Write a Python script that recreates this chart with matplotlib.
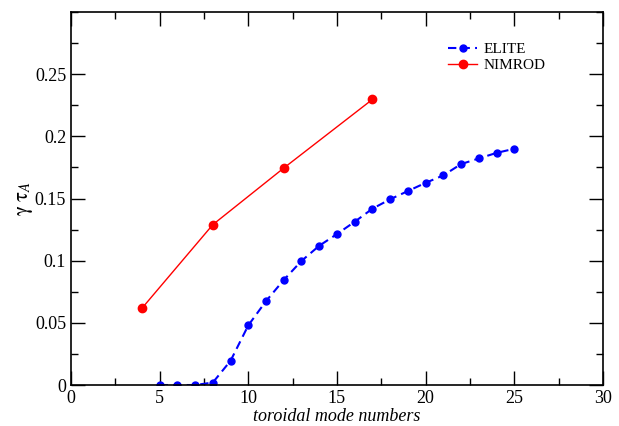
import matplotlib
matplotlib.use("Agg")
import matplotlib.pyplot as plt
from matplotlib.ticker import MultipleLocator

# ELITE growth rates vs toroidal mode number
elite_n = [5, 6, 7, 8, 9, 10, 11, 12, 13, 14, 15, 16, 17, 18, 19, 20, 21, 22, 23, 24, 25]
elite_gamma = [0.0, 0.0, 0.0, 0.002, 0.0195, 0.048, 0.0675, 0.0845, 0.0998, 0.112, 0.1214,
               0.1313, 0.1418, 0.1494, 0.156, 0.1626, 0.1686, 0.1777, 0.1822, 0.1867, 0.19]

# NIMROD growth rates
nimrod_n = [4, 8, 12, 17]
nimrod_gamma = [0.0617, 0.129, 0.1745, 0.2297]

plt.rcParams["font.family"] = ["Liberation Serif", "DejaVu Serif"]
plt.rcParams["mathtext.fontset"] = "stix"

fig = plt.figure(figsize=(6.19, 4.26), dpi=100)
ax = fig.add_axes([0.1147, 0.0962, 0.8593, 0.8756])

ax.plot(elite_n, elite_gamma, color="blue", linestyle=(0, (4, 2.5)), linewidth=1.5,
        marker="o", markersize=5, label="ELITE")
ax.plot(nimrod_n, nimrod_gamma, color="red", linestyle="-", linewidth=1,
        marker="o", markersize=6, label="NIMROD")

ax.set_xlim(0, 30)
ax.set_ylim(0, 0.3)
ax.xaxis.set_major_locator(MultipleLocator(5))
ax.xaxis.set_minor_locator(MultipleLocator(2.5))
ax.yaxis.set_minor_locator(MultipleLocator(0.025))
ax.set_yticks([0, 0.05, 0.1, 0.15, 0.2, 0.25])
ax.set_yticklabels(["0", "0.05", "0.1", "0.15", "0.2", "0.25"])
ax.tick_params(which="both", direction="in", top=True, right=True, labelsize=13, width=1)
ax.tick_params(which="major", length=10)
ax.tick_params(which="minor", length=5)
for s in ax.spines.values():
    s.set_linewidth(1.2)

ax.set_xlabel("toroidal mode numbers", fontsize=13, style="italic", labelpad=1)
ax.set_ylabel(r"$\mathrm{\gamma\;\tau}_{\mathit{A}}$", fontsize=15, labelpad=0)

ax.legend(loc="upper right", bbox_to_anchor=(0.918, 0.955), frameon=False, fontsize=11,
          handlelength=1.9, handletextpad=0.4, labelspacing=0.15)

fig.savefig("out.png", dpi=100)
